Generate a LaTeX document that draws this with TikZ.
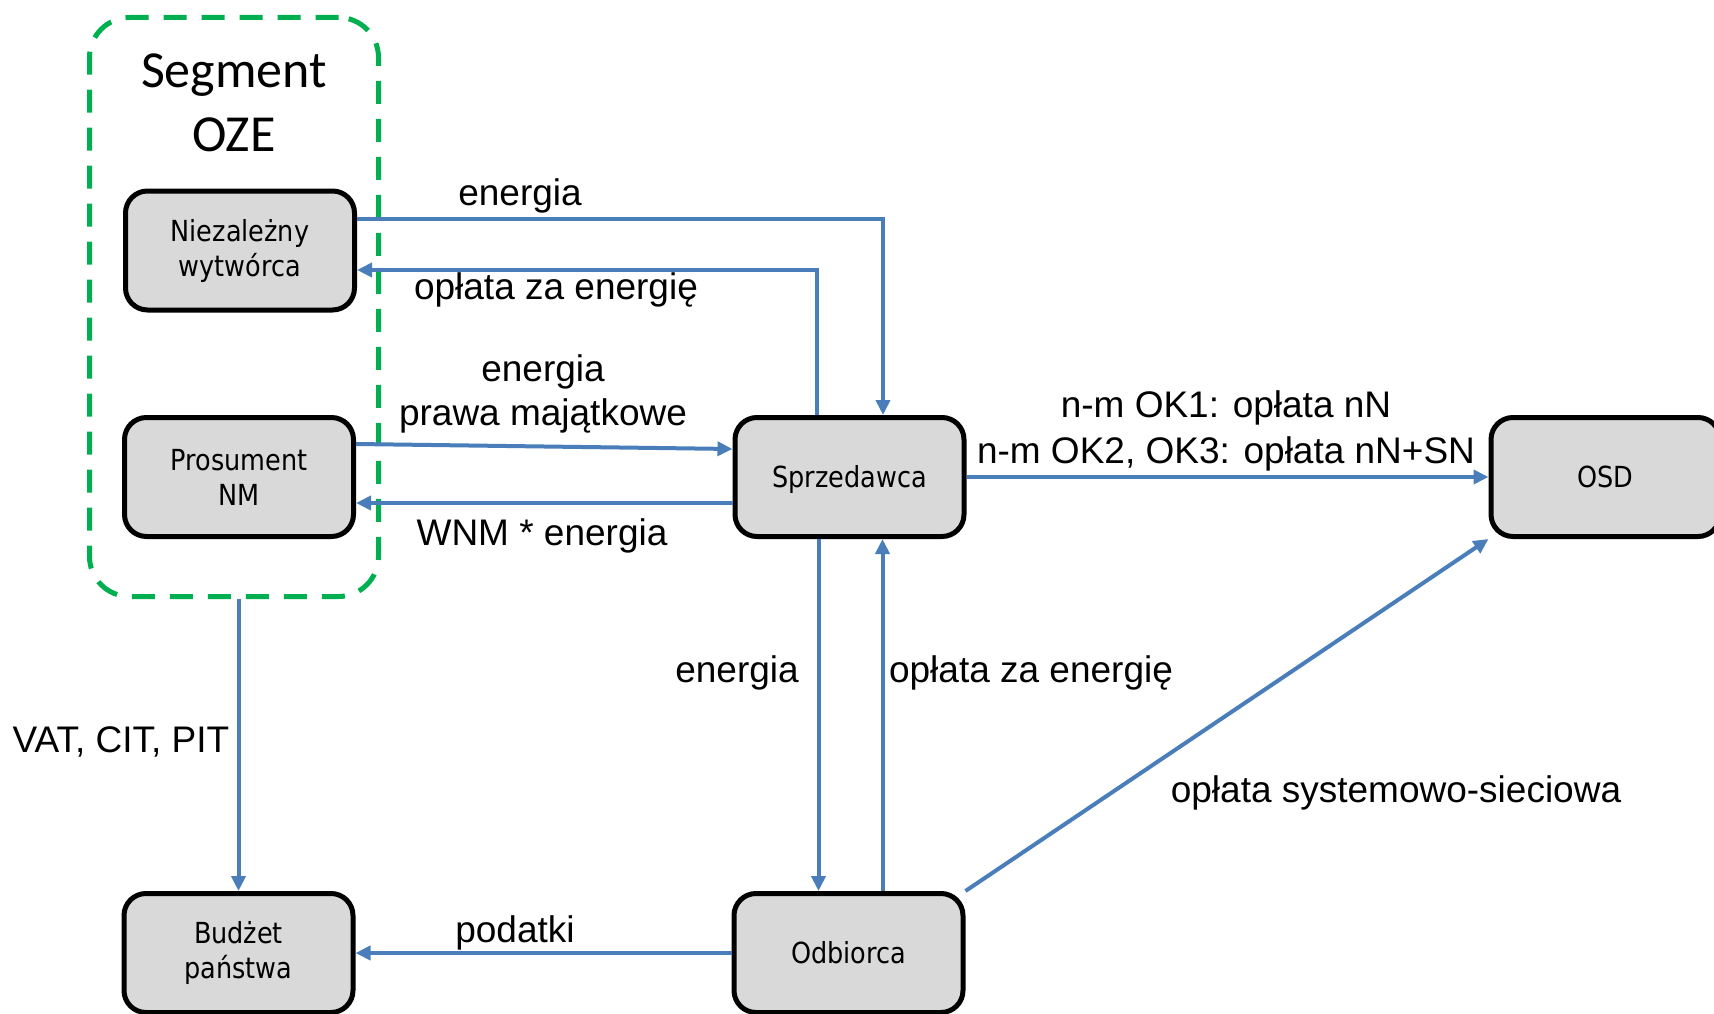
\documentclass[tikz,border=0pt]{standalone}
\usepackage{fontspec}
\setmainfont{Liberation Sans}
\newfontfamily\boxfont[FakeStretch=0.88]{DejaVu Sans}
\newfontfamily\segfont{Carlito}
\usetikzlibrary{arrows.meta}
\definecolor{arrblue}{HTML}{4A7EBB}
\definecolor{seggreen}{HTML}{00B050}
\definecolor{boxgray}{HTML}{D9D9D9}
\tikzset{
  actor/.style={draw=black, line width=5pt, fill=boxgray, rounded corners=22pt,
    minimum width=229pt, minimum height=119pt, align=center, inner sep=0pt,
    font=\boxfont\fontsize{29}{35}\selectfont},
  oneline/.style={text height=21pt, text depth=0pt},
  segbox/.style={draw=seggreen, line width=5pt, rounded corners=40pt,
    dash pattern=on 23pt off 15pt, minimum width=289pt, minimum height=579pt, inner sep=0pt},
  arr/.style={draw=arrblue, line width=4pt, -{Triangle[length=15pt,width=14pt]}},
  lab/.style={anchor=base, inner sep=0pt, font=\fontsize{37}{44}\selectfont},
  seglab/.style={anchor=base, inner sep=0pt, font=\segfont\fontsize{52}{64}\selectfont}
}
\begin{document}
\begin{tikzpicture}[x=1pt,y=-1pt]
\useasboundingbox (0,0) rectangle (1714,1014);
\clip (0,0) rectangle (1714,1014);
\fill[white] (0,0) rectangle (1714,1014);

% Segment OZE
\node[segbox] (seg) at (234,307) {};
\node[seglab] (segt1) at (234,88) {Segment};
\node[seglab] (segt2) at (234,152) {OZE};

% boxes
\node[actor] (niez) at (240,250.5) {Niezależny\\wytwórca};
\node[actor] (pros) at (239,477) {Prosument\\NM};
\node[actor, oneline] (spr) at (849.5,477) {Sprzedawca};
\node[actor, oneline] (osd) at (1605.5,477) {OSD};
\node[actor] (bud) at (238.5,953) {Budżet\\państwa};
\node[actor, oneline] (odb) at (848.5,953) {Odbiorca};

% connectors
\draw[arr] ([yshift=31.5pt]niez.east) -| ([xshift=33.5pt]spr.north);
\draw[arr] ([xshift=-32.5pt]spr.north) |- ([yshift=-19.5pt]niez.east);
\draw[arr] ([yshift=33pt]pros.east) -- ([yshift=28pt]spr.west);
\draw[arr] ([yshift=-26pt]spr.west) -- ([yshift=-26pt]pros.east);
\draw[arr] (spr.east) -- (osd.west);
\draw[arr] ([xshift=-31pt]spr.south) -- ([xshift=-31pt]spr.south |- odb.north);
\draw[arr] ([xshift=34pt]odb.north) -- ([xshift=34pt]odb.north |- spr.south);
\draw[arr] (odb.north east) -- (osd.south west);
\draw[arr] (odb.west) -- (bud.east);
\draw[arr] (seg.south -| bud.north) -- (bud.north);

% labels
\node[lab] (l1) at (520,205) {energia};
\node[lab] (l2) at (556,299) {opłata za energię};
\node[lab] (l3) at (543,381) {energia};
\node[lab] (l4) at (543,425) {prawa majątkowe};
\node[lab] (l5) at (542,545) {WNM * energia};
\node[lab] (l6) at (1226,417) {n-m OK1: opłata nN};
\node[lab] (l7) at (1226,463) {n-m OK2, OK3: opłata nN+SN};
\node[lab] (l8) at (737,682) {energia};
\node[lab] (l9) at (1031,682) {opłata za energię};
\node[lab] (l10) at (121,752) {VAT, CIT, PIT};
\node[lab] (l11) at (1396,802) {opłata systemowo-sieciowa};
\node[lab] (l12) at (515,942) {podatki};
\end{tikzpicture}
\end{document}
